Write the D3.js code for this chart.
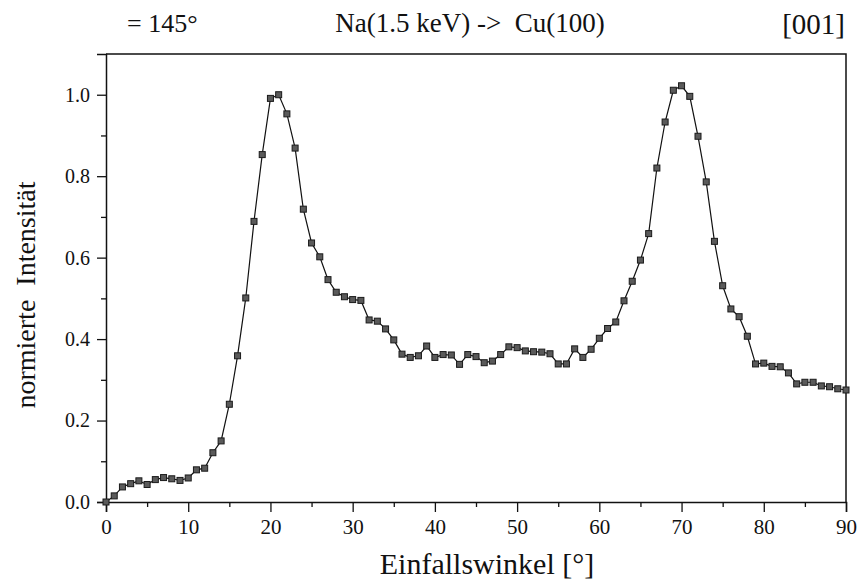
<!DOCTYPE html>
<html><head><meta charset="utf-8">
<script src="https://cdn.jsdelivr.net/npm/d3@7"></script>
<style>body{margin:0;background:#fff}svg{display:block}text{font-family:"Liberation Serif","Times New Roman",serif;fill:#111}</style>
</head><body>
<script>
const angles = d3.range(0, 91);
const intensity = [
 0.000,0.015,0.037,0.045,0.052,0.043,0.055,0.060,0.057,0.053,
 0.059,0.079,0.083,0.121,0.150,0.240,0.359,0.501,0.689,0.853,
 0.991,1.000,0.953,0.869,0.719,0.636,0.602,0.546,0.515,0.504,
 0.497,0.495,0.447,0.444,0.425,0.398,0.363,0.355,0.359,0.383,
 0.355,0.362,0.361,0.338,0.362,0.357,0.342,0.346,0.362,0.381,
 0.379,0.371,0.369,0.368,0.364,0.339,0.339,0.376,0.355,0.375,
 0.402,0.426,0.442,0.494,0.542,0.594,0.659,0.820,0.933,1.011,
 1.022,0.996,0.898,0.786,0.640,0.531,0.474,0.455,0.407,0.339,
 0.341,0.333,0.332,0.317,0.290,0.294,0.294,0.285,0.283,0.278,0.275];
const xTicks = [0,10,20,30,40,50,60,70,80,90];
const xMinor = [5,15,25,35,45,55,65,75,85];
const yTicks = [0.0,0.2,0.4,0.6,0.8,1.0];
const yMinor = [0.1,0.3,0.5,0.7,0.9];
const title = "Na(1.5 keV) ->\u00a0 Cu(100)";
const angleLabel = "= 145°";
const dirLabel = "[001]";
const xTitle = "Einfallswinkel [°]";
const yTitle = "normierte\u00a0 Intensität";

const W = 857, H = 581;
const m = {left:106, right:11, top:54, bottom:79};
const svg = d3.select("body").append("svg").attr("width", W).attr("height", H);
const x = d3.scaleLinear().domain([0,90]).range([m.left, W - m.right]);
const y = d3.scaleLinear().domain([0,1.1]).range([H - m.bottom, m.top]);

// frame (top, right)
svg.append("path")
  .attr("d", `M${x(0)},${y(1.1)}H${x(90)}V${y(0)}`)
  .attr("fill","none").attr("stroke","#111").attr("stroke-width",1.5);

// x axis
const gx = svg.append("g").attr("transform", `translate(0,${y(0)})`)
  .call(d3.axisBottom(x).tickValues(xTicks).tickFormat(d3.format("d")).tickSize(10).tickPadding(7));
svg.append("g").attr("transform", `translate(0,${y(0)})`)
  .call(d3.axisBottom(x).tickValues(xMinor).tickFormat("").tickSize(5))
  .select(".domain").remove();
// y axis
const gy = svg.append("g").attr("transform", `translate(${x(0)},0)`)
  .call(d3.axisLeft(y).tickValues(yTicks).tickFormat(d3.format(".1f")).tickSize(9).tickPadding(7));
svg.append("g").attr("transform", `translate(${x(0)},0)`)
  .call(d3.axisLeft(y).tickValues(yMinor).tickFormat("").tickSize(5))
  .select(".domain").remove();

svg.selectAll(".domain").attr("stroke","#111").attr("stroke-width",1.5);
svg.selectAll(".tick line").attr("stroke","#111").attr("stroke-width",1.3);
gx.selectAll(".tick text").attr("font-size",21).attr("font-family","Liberation Serif").attr("fill","#111");
gy.selectAll(".tick text").attr("font-size",20).attr("font-family","Liberation Serif").attr("fill","#111");

// data line
const pts = angles.map((a,i)=>({a, v: intensity[i]}));
svg.append("path").datum(pts)
  .attr("fill","none").attr("stroke","#111").attr("stroke-width",1.2)
  .attr("d", d3.line().x(d=>x(d.a)).y(d=>y(d.v)));
const s = 6;
svg.append("g").selectAll("rect").data(pts).join("rect")
  .attr("x", d=>x(d.a)-s/2).attr("y", d=>y(d.v)-s/2)
  .attr("width", s).attr("height", s)
  .attr("fill","#5a5a5a").attr("stroke","#1a1a1a").attr("stroke-width",1);

// texts
svg.append("text").attr("x",127).attr("y",32).attr("font-size",26).text(angleLabel);
svg.append("text").attr("x",470).attr("y",32).attr("text-anchor","middle").attr("font-size",27).text(title);
svg.append("text").attr("x",845).attr("y",34).attr("text-anchor","end").attr("font-size",29).text(dirLabel);
svg.append("text").attr("x",487).attr("y",574).attr("text-anchor","middle").attr("font-size",30).text(xTitle);
svg.append("text").attr("transform","translate(35,295) rotate(-90)").attr("text-anchor","middle").attr("font-size",28).text(yTitle);
</script>
</body></html>
